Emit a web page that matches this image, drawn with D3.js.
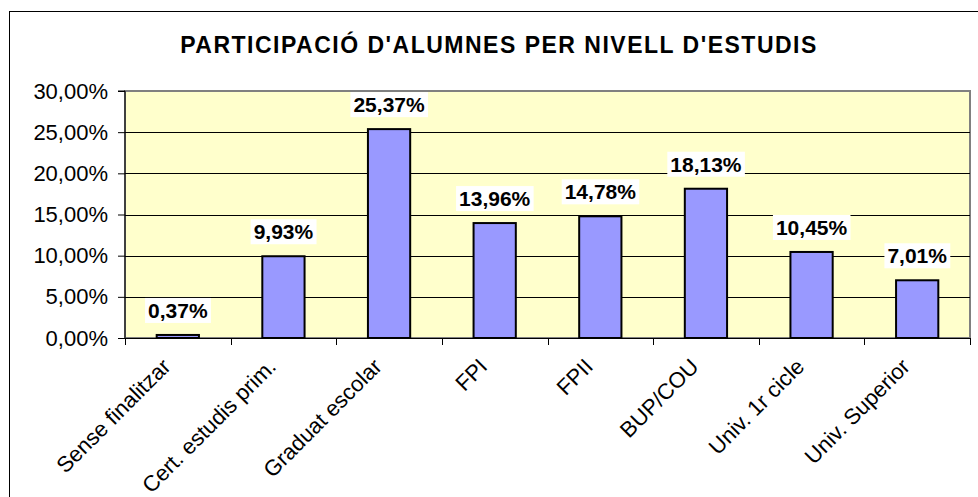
<!DOCTYPE html>
<html>
<head>
<meta charset="utf-8">
<script src="https://cdn.jsdelivr.net/npm/d3@7"></script>
<style>
  body { margin:0; background:#fff; }
  text { font-family: Arial, "Liberation Sans", sans-serif; }
</style>
</head>
<body>
<div id="chart"></div>
<script>
// data
var categories = ["Sense finalitzar","Cert. estudis prim.","Graduat escolar","FPI","FPII","BUP/COU","Univ. 1r cicle","Univ. Superior"];
var values = [0.37, 9.93, 25.37, 13.96, 14.78, 18.13, 10.45, 7.01];
var yTicks = [0, 5, 10, 15, 20, 25, 30];
var title = "PARTICIPACIÓ D'ALUMNES PER NIVELL D'ESTUDIS";

var w = 978, h = 497;
var plotL = 125, plotR = 970, plotT = 91, plotB = 338;

var pct = function(v){ return v.toFixed(2).replace(".", ",") + "%"; };

var svg = d3.select("#chart").append("svg")
    .attr("width", w)
    .attr("height", h);

//outer frame, runs off the right and bottom edge
svg.append("rect")
    .attr("x", 9.5).attr("y", 11.5)
    .attr("width", 990).attr("height", 500)
    .attr("fill", "#fff")
    .attr("stroke", "#000").attr("stroke-width", 1);

svg.append("text")
    .attr("x", 499).attr("y", 53)
    .attr("text-anchor", "middle")
    .attr("font-size", 23).attr("font-weight", "bold")
    .attr("letter-spacing", 1.5)
    .text(title);

var x = d3.scaleBand()
    .domain(categories)
    .range([plotL, plotR])
    .paddingInner(0.6)
    .paddingOuter(0.3);
// band boundaries for the tick marks
var step = x.step();

var y = d3.scaleLinear()
    .domain([0, 30])
    .range([plotB, plotT]);

//plot background
svg.append("rect")
    .attr("x", plotL).attr("y", plotT)
    .attr("width", plotR - plotL).attr("height", plotB - plotT)
    .attr("fill", "#FFFFCC")
    .attr("stroke", "#808080").attr("stroke-width", 2);

//gridlines
svg.append("g").selectAll("line")
    .data(yTicks.filter(function(d){ return d > 0 && d < 30; }))
    .enter().append("line")
    .attr("x1", plotL).attr("x2", plotR)
    .attr("y1", function(d){ return Math.round(y(d)) + 0.5; })
    .attr("y2", function(d){ return Math.round(y(d)) + 0.5; })
    .attr("stroke", "#000").attr("stroke-width", 1);

//y axis
var yAxis = svg.append("g")
    .attr("transform", "translate(" + plotL + ",0)")
    .call(d3.axisLeft(y).tickValues(yTicks).tickSize(7).tickPadding(10)
        .tickFormat(function(d){ return pct(d); }));
yAxis.selectAll("text").attr("font-size", 22).attr("fill", "#000")
    .attr("font-family", "Arial, 'Liberation Sans', sans-serif");
yAxis.selectAll("line, path").attr("stroke", "#000");
yAxis.select(".domain").attr("d", "M-7," + plotT + "H0V" + plotB);

//x axis line + ticks at band edges
var xAxis = svg.append("g");
xAxis.append("line")
    .attr("x1", plotL).attr("x2", plotR)
    .attr("y1", plotB + 0.5).attr("y2", plotB + 0.5)
    .attr("stroke", "#000");
xAxis.selectAll("line.tick")
    .data(d3.range(categories.length + 1))
    .enter().append("line")
    .attr("class", "tick")
    .attr("x1", function(i){ return Math.round(plotL + step * i) + 0.5; })
    .attr("x2", function(i){ return Math.round(plotL + step * i) + 0.5; })
    .attr("y1", plotB).attr("y2", plotB + 7)
    .attr("stroke", "#000");

xAxis.selectAll("text")
    .data(categories)
    .enter().append("text")
    .attr("text-anchor", "end")
    .attr("font-size", 22)
    .attr("transform", function(d){
        var cx = x(d) + x.bandwidth() / 2;
        return "translate(" + (cx - 6) + "," + (plotB + 30) + ") rotate(-45)";
    })
    .text(function(d){ return d; });

//bars
svg.append("g").selectAll("rect")
    .data(values)
    .enter().append("rect")
    .attr("x", function(d, i){ return x(categories[i]); })
    .attr("y", function(d){ return y(d); })
    .attr("width", x.bandwidth())
    .attr("height", function(d){ return plotB - y(d); })
    .attr("fill", "#9999FF")
    .attr("stroke", "#000").attr("stroke-width", 2);

//value labels with white box
var labels = svg.append("g").selectAll("g")
    .data(values)
    .enter().append("g");
labels.append("rect").attr("fill", "#fff");
labels.append("text")
    .attr("text-anchor", "middle")
    .attr("font-size", 21).attr("font-weight", "bold")
    .attr("x", function(d, i){ return x(categories[i]) + x.bandwidth() / 2; })
    .attr("y", function(d){ return y(d) - 17; })
    .text(function(d){ return pct(d); });
labels.each(function(){
    var g = d3.select(this);
    var b = g.select("text").node().getBBox();
    g.select("rect")
        .attr("x", b.x - 3).attr("y", b.y - 1)
        .attr("width", b.width + 6).attr("height", b.height + 2);
});
</script>
</body>
</html>
